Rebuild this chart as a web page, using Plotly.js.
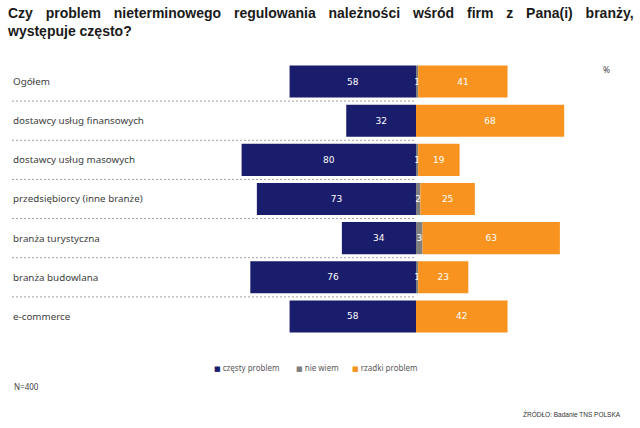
<!DOCTYPE html>
<html>
<head>
<meta charset="utf-8">
<script src="https://cdn.plot.ly/plotly-3.0.1.min.js"></script>
<style>html,body{margin:0;padding:0;background:#fff;}#chart{width:640px;height:428px;}</style>
</head>
<body>
<div id="chart"></div>
<script>
const categories = ["Ogółem", "dostawcy usług finansowych", "dostawcy usług masowych", "przedsiębiorcy (inne branże)", "branża turystyczna", "branża budowlana", "e-commerce"];
const czestyProblem = [58, 32, 80, 73, 34, 76, 58];
const nieWiem = [1, 0, 1, 2, 3, 1, 0];
const rzadkiProblem = [41, 68, 19, 25, 63, 23, 42];
const seriesNames = ["częsty problem", "nie wiem", "rzadki problem"];

const NAVY = "#1a1c6c", GREY = "#7f7f7f", ORANGE = "#f7931e";
const COLORS = [NAVY, GREY, ORANGE];
const PX_PER_UNIT = 2.18, ZERO_PX = 416, W = 640, H = 428;
const X_MIN = -ZERO_PX / PX_PER_UNIT, X_MAX = (W - ZERO_PX) / PX_PER_UNIT;
const PLOT_T = 62, PLOT_B = 92, PLOT_H = H - PLOT_T - PLOT_B;
const pyToPaper = py => (H - PLOT_B - py) / PLOT_H;
const SMALL_FONT = "Noto Sans, DejaVu Sans";

const lbl = v => v ? String(v) : "";
const txtFont = {family: "DejaVu Sans", size: 9, color: "#ffffff"};
const common = {type: "bar", orientation: "h", y: categories, textposition: "inside",
  insidetextanchor: "middle", constraintext: "none", textfont: txtFont, hoverinfo: "name+text", showlegend: false};

const traces = [
  Object.assign({}, common, {name: seriesNames[0], x: czestyProblem.map(v => -v), text: czestyProblem.map(lbl), marker: {color: COLORS[0]}}),
  Object.assign({}, common, {name: seriesNames[1], x: nieWiem, text: nieWiem.map(lbl), marker: {color: COLORS[1]}}),
  Object.assign({}, common, {name: seriesNames[2], x: rzadkiProblem, text: rzadkiProblem.map(lbl), marker: {color: COLORS[2]}})
];

const sepX0 = X_MIN + (12 / W) * (X_MAX - X_MIN);
const shapes = categories.slice(0, -1).map((c, i) => ({
  type: "line", xref: "x", yref: "y", x0: sepX0, x1: 0, y0: i + 0.5, y1: i + 0.5,
  line: {color: "#a0a0a0", width: 1, dash: "2px,2px"}, layer: "below"
}));

const title1 = "Czy problem nieterminowego regulowania należności wśród firm z Pana(i) branży,".split(" ").join("\u00a0\u00a0\u200a ");

const legendX = [212, 294, 350];
const legendAnn = seriesNames.map((n, i) => ({
  text: "<span style=\"color:" + COLORS[i] + ";font-size:7px\">■</span> " + n,
  xref: "paper", yref: "paper", x: legendX[i] / W, y: pyToPaper(367), xanchor: "left", yanchor: "middle",
  showarrow: false, font: {family: SMALL_FONT, size: 8, color: "#595959"}
}));

const layout = {
  width: W, height: H,
  margin: {l: 0, r: 0, t: PLOT_T, b: PLOT_B},
  paper_bgcolor: "#fff", plot_bgcolor: "#fff",
  barmode: "relative", bargap: 0.18,
  title: {text: "<b>" + title1 + "<br>występuje często?</b>", x: 8 / W, xanchor: "left", xref: "paper",
    y: 1 - 18 / H, yanchor: "bottom", yref: "container",
    font: {family: "Liberation Sans, Arial", size: 14, color: "#1a1a1a"}},
  xaxis: {range: [X_MIN, X_MAX], visible: false, fixedrange: true},
  yaxis: {autorange: "reversed", showgrid: false, zeroline: false, showline: false, ticks: "",
    ticklabelposition: "inside", ticklabelstandoff: 10,
    tickfont: {family: SMALL_FONT, size: 9.8, color: "#404040"}},
  showlegend: false,
  shapes: shapes,
  annotations: [
    {text: "%", xref: "paper", yref: "paper", x: 606 / W, y: pyToPaper(70), xanchor: "center", yanchor: "middle",
      showarrow: false, font: {family: SMALL_FONT, size: 8.5, color: "#404040"}},
    {text: "N=400", xref: "paper", yref: "paper", x: 12 / W, y: pyToPaper(386), xanchor: "left", yanchor: "middle",
      showarrow: false, font: {family: SMALL_FONT, size: 8, color: "#404040"}},
    {text: "ŹRÓDŁO: Badanie TNS POLSKA", xref: "paper", yref: "paper", x: 623 / W, y: pyToPaper(414), xanchor: "right", yanchor: "middle",
      showarrow: false, font: {family: "Liberation Sans, Arial", size: 6.5, color: "#333333"}}
  ].concat(legendAnn)
};

Plotly.newPlot("chart", traces, layout, {displayModeBar: false, staticPlot: true});
</script>
</body>
</html>
